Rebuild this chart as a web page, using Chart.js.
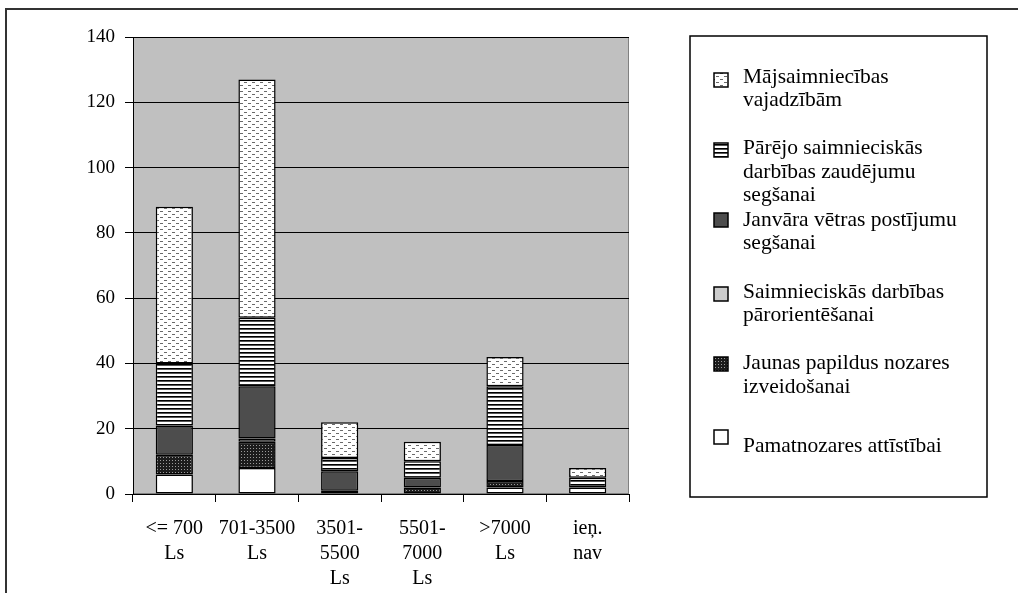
<!DOCTYPE html>
<html>
<head>
<meta charset="utf-8">
<script src="https://cdn.jsdelivr.net/npm/chart.js@4.4.0/dist/chart.umd.min.js"></script>
<style>
  html, body { margin: 0; padding: 0; background: #fff; }
  canvas { display: block; }
</style>
</head>
<body>
<canvas id="chart" width="1018" height="593"></canvas>
<script>
// Categories (income groups)
const categories = [
    ['<= 700', 'Ls'],
    ['701-3500', 'Ls'],
    ['3501-', '5500', 'Ls'],
    ['5501-', '7000', 'Ls'],
    ['>7000', 'Ls'],
    ['ieņ.', 'nav']
];

// Series values, bottom of the stack first
const pamatnozares = [6, 8, 1, 0, 2, 2];
const jaunasNozares = [6, 8, 0, 2, 2, 0];
const parorientesana = [0, 1, 0, 0, 0, 0];
const janvaraVetra = [9, 16, 6, 3, 11, 0];
const parejoZaudejumi = [19, 21, 4, 5, 18, 3];
const majsaimniecibas = [48, 73, 11, 6, 9, 3];

const yTicks = [0, 20, 40, 60, 80, 100, 120, 140];

// Legend texts, top to bottom (as in the picture)
const legendLabels = [
    ['Mājsaimniecības', 'vajadzībām'],
    ['Pārējo saimnieciskās', 'darbības zaudējumu', 'segšanai'],
    ['Janvāra vētras postījumu', 'segšanai'],
    ['Saimnieciskās darbības', 'pārorientēšanai'],
    ['Jaunas papildus nozares', 'izveidošanai'],
    ['Pamatnozares attīstībai']
];

const FONT = '"Liberation Serif", "Times New Roman", serif';
const canvas = document.getElementById('chart');
const ctx = canvas.getContext('2d');

// small helper for hatch / dot fills
function makePattern(w, h, draw) {
    const c = document.createElement('canvas');
    c.width = w;
    c.height = h;
    draw(c.getContext('2d'));
    return ctx.createPattern(c, 'repeat');
}

const fills = {
    maj: makePattern(8, 6, g => {
        g.fillStyle = '#ffffff'; g.fillRect(0, 0, 8, 6);
        g.fillStyle = '#6a6a6a';
        g.fillRect(0, 1, 3, 1);
        g.fillRect(4, 4, 3, 1);
    }),
    parejo: makePattern(4, 4, g => {
        g.fillStyle = '#ffffff'; g.fillRect(0, 0, 4, 4);
        g.fillStyle = '#000000'; g.fillRect(0, 0, 4, 1);
        g.fillStyle = '#555555'; g.fillRect(0, 1, 4, 1);
    }),
    janvara: '#4d4d4d',
    parorient: '#cccccc',
    jaunas: makePattern(3, 3, g => {
        g.fillStyle = '#1c1c1c'; g.fillRect(0, 0, 3, 3);
        g.fillStyle = '#9a9a9a'; g.fillRect(1, 1, 1, 1);
    }),
    pamat: '#ffffff'
};

// legend order matches legendLabels
const legendFills = [fills.maj, fills.parejo, fills.janvara, fills.parorient, fills.jaunas, fills.pamat];
const legendSwatchY = [73, 143, 213, 287, 357, 430];
const legendTextY = [[77, 100], [148, 172, 195], [220, 243], [292, 315], [363, 387], [446]];

const framePlugin = {
    id: 'frame',
    beforeDraw(chart) {
        const c = chart.ctx;
        const a = chart.chartArea;
        c.save();
        c.fillStyle = '#ffffff';
        c.fillRect(0, 0, chart.width, chart.height);
        // outer frame (top and left edges visible)
        c.strokeStyle = '#333333';
        c.lineWidth = 2;
        c.beginPath();
        c.moveTo(6, 593);
        c.lineTo(6, 9);
        c.lineTo(1018, 9);
        c.stroke();
        // plot background
        c.fillStyle = '#c0c0c0';
        c.fillRect(a.left, a.top, a.right - a.left, a.bottom - a.top);
        c.strokeStyle = '#808080';
        c.lineWidth = 1;
        c.strokeRect(a.left + 0.5, a.top + 0.5, a.right - a.left - 1, a.bottom - a.top - 1);
        c.restore();
    },
    afterDraw(chart) {
        const c = chart.ctx;
        c.save();
        // legend box
        c.strokeStyle = '#000000';
        c.lineWidth = 1.5;
        c.strokeRect(690, 36, 297, 461);
        c.font = '21.5px ' + FONT;
        c.textBaseline = 'middle';
        legendLabels.forEach((lines, i) => {
            c.fillStyle = legendFills[i];
            c.fillRect(714, legendSwatchY[i], 14, 14);
            c.strokeStyle = '#000000';
            c.lineWidth = 1.5;
            c.strokeRect(714, legendSwatchY[i], 14, 14);
            c.fillStyle = '#000000';
            lines.forEach((t, j) => c.fillText(t, 743, legendTextY[i][j]));
        });
        c.restore();
    }
};

function ds(label, data, bg) {
    return {
        label: label,
        data: data,
        backgroundColor: bg,
        borderColor: '#000000',
        borderWidth: 1.5,
        borderSkipped: false,
        barPercentage: 0.45,
        categoryPercentage: 1
    };
}

new Chart(ctx, {
    type: 'bar',
    data: {
        labels: categories,
        datasets: [
            ds('Pamatnozares attīstībai', pamatnozares, fills.pamat),
            ds('Jaunas papildus nozares izveidošanai', jaunasNozares, fills.jaunas),
            ds('Saimnieciskās darbības pārorientēšanai', parorientesana, fills.parorient),
            ds('Janvāra vētras postījumu segšanai', janvaraVetra, fills.janvara),
            ds('Pārējo saimnieciskās darbības zaudējumu segšanai', parejoZaudejumi, fills.parejo),
            ds('Mājsaimniecības vajadzībām', majsaimniecibas, fills.maj)
        ]
    },
    options: {
        responsive: false,
        animation: false,
        events: [],
        layout: { padding: { left: 0, top: 37, right: 389, bottom: 0 } },
        plugins: {
            legend: { display: false },
            tooltip: { enabled: false }
        },
        scales: {
            x: {
                stacked: true,
                grid: { offset: true, drawOnChartArea: false, color: '#000000', tickLength: 8 },
                border: { color: '#000000', width: 1 },
                ticks: {
                    color: '#000000',
                    padding: 14,
                    maxRotation: 0,
                    autoSkip: false,
                    font: { family: FONT, size: 20, lineHeight: 1.25 }
                },
                afterFit(scale) { scale.height = 99; }
            },
            y: {
                stacked: true,
                min: 0,
                max: 140,
                afterBuildTicks(scale) { scale.ticks = yTicks.map(v => ({ value: v })); },
                grid: { color: '#000000', tickLength: 8 },
                border: { color: '#000000', width: 1 },
                ticks: {
                    color: '#000000',
                    padding: 10,
                    font: { family: FONT, size: 19 }
                },
                afterFit(scale) { scale.width = 133; }
            }
        }
    },
    plugins: [framePlugin]
});
</script>
</body>
</html>
